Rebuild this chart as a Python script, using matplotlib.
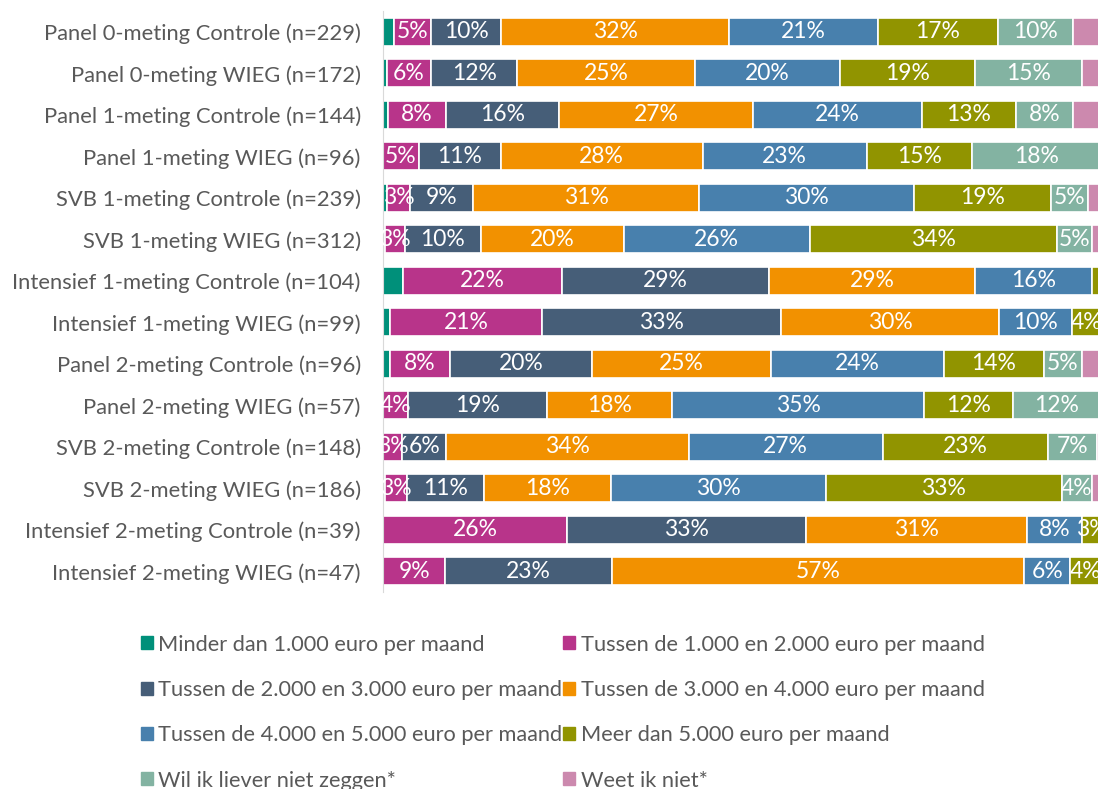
import matplotlib.pyplot as plt
from matplotlib.patches import Patch

CATEGORIES = [
    'Panel 0-meting Controle (n=229)',
    'Panel 0-meting WIEG (n=172)',
    'Panel 1-meting Controle (n=144)',
    'Panel 1-meting WIEG (n=96)',
    'SVB 1-meting Controle (n=239)',
    'SVB 1-meting WIEG (n=312)',
    'Intensief 1-meting Controle (n=104)',
    'Intensief 1-meting WIEG (n=99)',
    'Panel 2-meting Controle (n=96)',
    'Panel 2-meting WIEG (n=57)',
    'SVB 2-meting Controle (n=148)',
    'SVB 2-meting WIEG (n=186)',
    'Intensief 2-meting Controle (n=39)',
    'Intensief 2-meting WIEG (n=47)',
]

# percentages per answer category (one value per row above)
minder = [1.5, 0.5, 0.7, 0, 0.6, 0.3, 2.8, 1.0, 1.0, 0, 0, 0.3, 0, 0]
t1_2 = [5.2, 6.2, 8.1, 5.0, 3.2, 2.8, 22.1, 21.2, 8.3, 3.5, 2.7, 3.0, 25.6, 8.7]
t2_3 = [9.8, 12.0, 15.7, 11.4, 8.8, 10.5, 28.8, 33.3, 19.8, 19.3, 6.1, 10.8, 33.3, 23.2]
t3_4 = [31.7, 24.7, 27.0, 28.1, 31.4, 19.9, 28.8, 30.3, 25.0, 17.5, 33.8, 17.6, 30.8, 57.4]
t4_5 = [20.8, 20.2, 23.5, 22.9, 30.0, 26.0, 16.3, 10.1, 24.0, 35.1, 27.0, 30.0, 7.7, 6.4]
meer = [16.6, 18.9, 13.1, 14.6, 19.0, 34.4, 1.2, 4.1, 14.0, 12.3, 23.0, 32.8, 2.6, 4.3]
wil = [10.5, 14.8, 8.0, 18.0, 5.2, 4.8, 0, 0, 5.2, 12.3, 6.8, 4.2, 0, 0]
weet = [3.9, 2.7, 3.9, 0, 1.8, 1.3, 0, 0, 2.7, 0, 0.6, 1.3, 0, 0]

SERIES = [
    ('Minder dan 1.000 euro per maand', minder, '#00907a', False),
    ('Tussen de 1.000 en 2.000 euro per maand', t1_2, '#b8348a', True),
    ('Tussen de 2.000 en 3.000 euro per maand', t2_3, '#465e78', True),
    ('Tussen de 3.000 en 4.000 euro per maand', t3_4, '#f29100', True),
    ('Tussen de 4.000 en 5.000 euro per maand', t4_5, '#4880ad', True),
    ('Meer dan 5.000 euro per maand', meer, '#919400', True),
    ('Wil ik liever niet zeggen*', wil, '#83b3a2', True),
    ('Weet ik niet*', weet, '#cc89ae', False),
]

plt.rcParams['font.family'] = ['Lato', 'DejaVu Sans']
TEXT_GREY = '#595959'

fig = plt.figure(figsize=(10.98, 7.89), dpi=100)
ax = fig.add_axes([383 / 1098, 1 - 592 / 789, 718 / 1098, 581 / 789])

y = list(range(len(CATEGORIES)))
left = [0.0] * len(CATEGORIES)
for name, vals, color, labelled in SERIES:
    bars = ax.barh(y, vals, left=left, height=0.68, color=color,
                   edgecolor='white', linewidth=1.2, label=name)
    if labelled:
        labels = [f'{round(v)}%' if v >= 2.5 else '' for v in vals]
        ax.bar_label(bars, labels=labels, label_type='center',
                     color='white', fontsize=16.5, clip_on=False)
    left = [a + b for a, b in zip(left, vals)]

ax.set_xlim(0, 100)
ax.set_ylim(len(CATEGORIES) - 0.5, -0.5)
ax.set_yticks(y)
ax.set_yticklabels(CATEGORIES, fontsize=15.8, color=TEXT_GREY)
ax.tick_params(axis='y', length=0, pad=16)
ax.set_xticks([])
for side in ['top', 'right', 'bottom']:
    ax.spines[side].set_visible(False)
ax.spines['left'].set_color('#d9d9d9')

# legend filled column-wise, so reorder to read row by row like the original
order = [0, 2, 4, 6, 1, 3, 5, 7]
handles = [Patch(color=SERIES[i][2], label=SERIES[i][0]) for i in order]
fig.legend(handles=handles, ncol=2, loc='upper left',
           bbox_to_anchor=(121 / 1098, 1 - 615 / 789), frameon=False,
           fontsize=15.7, labelcolor=TEXT_GREY, handlelength=0.55,
           handleheight=0.55, handletextpad=0.25, labelspacing=1.16,
           columnspacing=0.05)

fig.savefig('out.png', dpi=100)
